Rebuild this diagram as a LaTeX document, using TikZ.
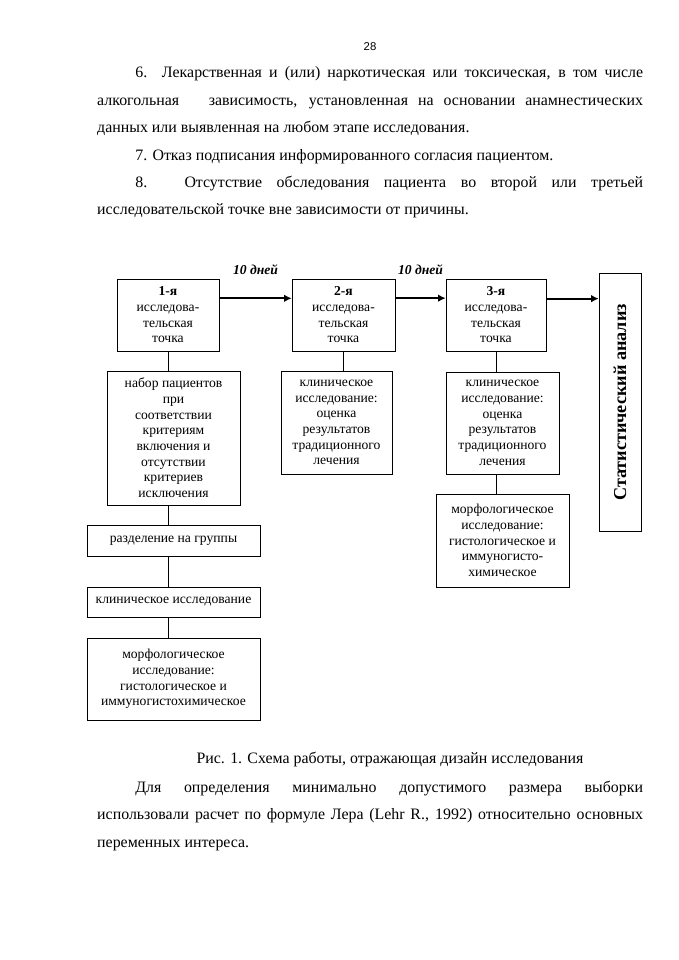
\documentclass[tikz,border=0pt]{standalone}
\usepackage{fontspec}
\setmainfont{Liberation Serif}
\setsansfont{Liberation Sans}
\usetikzlibrary{arrows.meta}

\newlength{\px}
\setlength{\px}{0.3096mm}
\hyphenpenalty=10000
\tolerance=10000

\tikzset{
  blk/.style={draw, line width=0.6pt, align=center, inner sep=0pt,
    font=\fontsize{12pt}{13.8pt}\selectfont},
  wh/.style 2 args={minimum width=#1*\px, minimum height=#2*\px},
  flow/.style={line width=1.8pt, -{Latex[length=2.3mm,width=2.3mm]}},
  link/.style={line width=0.6pt},
  days/.style={font=\fontsize{12pt}{14pt}\selectfont\bfseries\itshape, inner sep=0pt},
  bodytext/.style={anchor=base west, inner sep=0pt, text width=169mm, align=justify,
    font=\fontsize{14pt}{24.1pt}\selectfont}
}

\begin{document}
\begin{tikzpicture}[x=0.3096mm, y=-0.3096mm]
    \useasboundingbox (0,0) rectangle (678,960);

    % Page text
    \node[font=\sffamily\fontsize{10pt}{12pt}\selectfont, anchor=base] (pagenum) at (370,50.5) {28};
    \node[bodytext] (crit) at (97,78) {%
        \hspace*{11.8mm}6. Лекарственная и (или) наркотическая или токсическая, в том числе\linebreak
        алкогольная \hspace{3mm} зависимость, установленная на основании анамнестических\linebreak
        данных или выявленная на любом этапе исследования.\par
        \hspace*{11.8mm}7. Отказ подписания информированного согласия пациентом.\par
        \hspace*{11.8mm}8. Отсутствие обследования пациента во второй или третьей\linebreak
        исследовательской точке вне зависимости от причины.};

    % Research points
    \node[blk, wh={102}{72}] (p1) at (168,315) {\textbf{1-я}\\исследова-\\тельская\\точка};
    \node[blk, wh={103}{72}] (p2) at (343.5,315) {\textbf{2-я}\\исследова-\\тельская\\точка};
    \node[blk, wh={100}{72}] (p3) at (496,315) {\textbf{3-я}\\исследова-\\тельская\\точка};
    \node[blk, wh={258}{42}, rotate=90, font=\fontsize{16pt}{18pt}\selectfont\bfseries]
        (stat) at (620,402.5) {Статистический анализ};

    % Point 1 column
    \node[blk, wh={133}{134}] (recruit) at (173.5,438) {набор пациентов\\при\\соответствии\\критериям\\включения и\\отсутствии\\критериев\\исключения};
    \node[blk, wh={173}{31}] (groups) at (173.5,540.5) {разделение на группы};
    \node[blk, wh={173}{30}] (clin1) at (173.5,602) {клиническое исследование};
    \node[blk, wh={173}{82}] (morph1) at (173.5,679) {морфологическое\\исследование:\\гистологическое и\\иммуногистохимическое};

    % Points 2 and 3
    \node[blk, wh={111}{103}] (clin2) at (336.5,422.5) {клиническое\\исследование:\\оценка\\результатов\\традиционного\\лечения};
    \node[blk, wh={113}{102}] (clin3) at (502.5,423) {клиническое\\исследование:\\оценка\\результатов\\традиционного\\лечения};
    \node[blk, wh={133}{93}] (morph3) at (502.5,540.5) {морфологическое\\исследование:\\гистологическое и\\иммуногисто-\\химическое};

    % Timeline arrows
    \draw[flow] (p1.18) -- (p1.18 -| p2.west)
        node[days, midway, anchor=base, yshift=7.4mm] (d1) {10 дней};
    \draw[flow] (p2.18) -- (p2.18 -| p3.west)
        node[days, midway, anchor=base, yshift=7.4mm] (d2) {10 дней};
    \draw[flow] (p3.18) -- (p3.18 -| stat.north);

    % Vertical links
    \draw[link] (p1.south) -- (p1.south |- recruit.north);
    \draw[link] (p1.south |- recruit.south) -- (p1.south |- groups.north);
    \draw[link] (p1.south |- groups.south) -- (p1.south |- clin1.north);
    \draw[link] (p1.south |- clin1.south) -- (p1.south |- morph1.north);
    \draw[link] (p2.south) -- (p2.south |- clin2.north);
    \draw[link] (p3.south) -- (p3.south |- clin3.north);
    \draw[link] (p3.south |- clin3.south) -- (p3.south |- morph3.north);

    % Caption and following text
    \node[font=\fontsize{14pt}{16pt}\selectfont, anchor=base] (caption) at (390,763.6)
        {Рис. 1. Схема работы, отражающая дизайн исследования};
    \node[bodytext] (sample) at (97,792.6) {%
        \hspace*{11.8mm}Для определения минимально допустимого размера выборки\linebreak
        использовали расчет по формуле Лера (Lehr R., 1992) относительно основных\linebreak
        переменных интереса.};
\end{tikzpicture}
\end{document}
